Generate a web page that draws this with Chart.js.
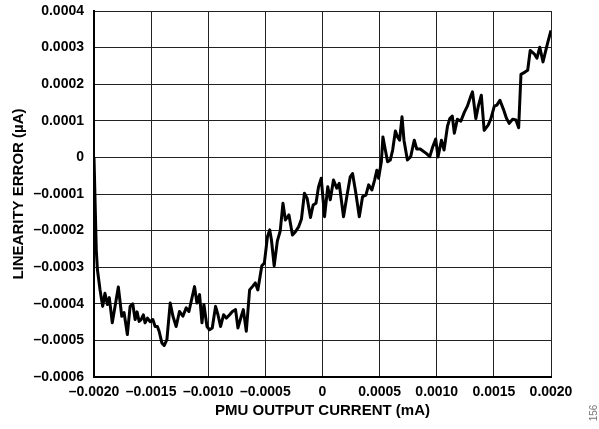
<!DOCTYPE html>
<html>
<head>
<meta charset="utf-8">
<script src="https://cdn.jsdelivr.net/npm/chart.js@4.4.1/dist/chart.umd.min.js"></script>
<style>
    html, body { margin: 0; padding: 0; background: #ffffff; }
    #wrap { width: 599px; height: 429px; }
</style>
</head>
<body>
<div id="wrap"><canvas id="chart" width="599" height="429"></canvas></div>
<script>
// PMU output current (mA)
const currentMa = [
    -0.002000, -0.001980, -0.001970, -0.001947, -0.001924, -0.001904, -0.001883, -0.001866,
    -0.001840, -0.001787, -0.001757, -0.001737, -0.001708, -0.001684, -0.001661, -0.001640,
    -0.001623, -0.001605, -0.001588, -0.001568, -0.001553, -0.001532, -0.001509, -0.001485,
    -0.001465, -0.001445, -0.001430, -0.001406, -0.001386, -0.001362, -0.001333, -0.001309,
    -0.001281, -0.001252, -0.001222, -0.001193, -0.001169, -0.001149, -0.001120, -0.001099,
    -0.001076, -0.001055, -0.001038, -0.001011, -0.000989, -0.000965, -0.000936, -0.000915,
    -0.000892, -0.000866, -0.000842, -0.000813, -0.000789, -0.000761, -0.000740, -0.000711,
    -0.000693, -0.000667, -0.000638, -0.000608, -0.000588, -0.000566, -0.000531, -0.000509,
    -0.000482, -0.000462, -0.000447, -0.000423, -0.000395, -0.000370, -0.000346, -0.000325,
    -0.000294, -0.000263, -0.000237, -0.000208, -0.000184, -0.000158, -0.000134, -0.000105,
    -0.000082, -0.000057, -0.000035, -0.000011, 0.000018, 0.000046, 0.000068, 0.000096,
    0.000125, 0.000146, 0.000184, 0.000213, 0.000243, 0.000263, 0.000292, 0.000322,
    0.000351, 0.000380, 0.000404, 0.000432, 0.000456, 0.000476, 0.000491, 0.000515,
    0.000529, 0.000550, 0.000570, 0.000594, 0.000614, 0.000638, 0.000658, 0.000675,
    0.000696, 0.000713, 0.000743, 0.000772, 0.000803, 0.000825, 0.000855, 0.000882,
    0.000908, 0.000939, 0.000965, 0.000991, 0.001011, 0.001041, 0.001064, 0.001094,
    0.001114, 0.001136, 0.001154, 0.001180, 0.001211, 0.001241, 0.001268, 0.001294,
    0.001313, 0.001342, 0.001364, 0.001390, 0.001415, 0.001450, 0.001474, 0.001504,
    0.001526, 0.001553, 0.001583, 0.001610, 0.001634, 0.001664, 0.001693, 0.001717,
    0.001737, 0.001772, 0.001796, 0.001818, 0.001853, 0.001877, 0.001902, 0.001930,
    0.001969, 0.002000
];

// Linearity error (µA) at each current point
const linearityErrorUa = [
    0.000000, -0.000253, -0.000307, -0.000362, -0.000407, -0.000371, -0.000402, -0.000383,
    -0.000452, -0.000354, -0.000434, -0.000424, -0.000484, -0.000407, -0.000400, -0.000443,
    -0.000422, -0.000448, -0.000443, -0.000430, -0.000452, -0.000439, -0.000449, -0.000443,
    -0.000462, -0.000462, -0.000475, -0.000507, -0.000514, -0.000498, -0.000398, -0.000434,
    -0.000462, -0.000421, -0.000434, -0.000411, -0.000421, -0.000393, -0.000353, -0.000398,
    -0.000375, -0.000452, -0.000402, -0.000462, -0.000471, -0.000466, -0.000407, -0.000430,
    -0.000462, -0.000430, -0.000439, -0.000430, -0.000421, -0.000416, -0.000466, -0.000434,
    -0.000416, -0.000475, -0.000362, -0.000351, -0.000343, -0.000362, -0.000296, -0.000289,
    -0.000217, -0.000198, -0.000225, -0.000296, -0.000228, -0.000201, -0.000125, -0.000171,
    -0.000157, -0.000212, -0.000203, -0.000189, -0.000168, -0.000098, -0.000112, -0.000164,
    -0.000130, -0.000125, -0.000081, -0.000057, -0.000162, -0.000080, -0.000116, -0.000062,
    -0.000084, -0.000071, -0.000162, -0.000107, -0.000053, -0.000044, -0.000098, -0.000162,
    -0.000107, -0.000103, -0.000075, -0.000089, -0.000062, -0.000035, -0.000057, -0.000012,
    0.000056, 0.000020, -0.000012, -0.000007, 0.000020, 0.000072, 0.000055, 0.000047,
    0.000111, 0.000047, -0.000007, 0.000002, 0.000047, 0.000023, 0.000023, 0.000017,
    0.000011, 0.000002, 0.000029, 0.000050, 0.000001, 0.000047, 0.000020, 0.000085,
    0.000106, 0.000113, 0.000066, 0.000104, 0.000099, 0.000123, 0.000140, 0.000164,
    0.000179, 0.000106, 0.000140, 0.000170, 0.000074, 0.000088, 0.000106, 0.000140,
    0.000143, 0.000156, 0.000132, 0.000107, 0.000093, 0.000104, 0.000102, 0.000081,
    0.000227, 0.000233, 0.000238, 0.000292, 0.000283, 0.000271, 0.000301, 0.000261,
    0.000311, 0.000347
];

const xTickValues = [-0.002, -0.0015, -0.001, -0.0005, 0, 0.0005, 0.001, 0.0015, 0.002];
const yTickValues = [0.0004, 0.0003, 0.0002, 0.0001, 0, -0.0001, -0.0002, -0.0003, -0.0004, -0.0005, -0.0006];

const xTitle = "PMU OUTPUT CURRENT (mA)";
const yTitle = "LINEARITY ERROR (µA)";
const figureNumber = "156";

const FONT = "'Liberation Sans', Arial, sans-serif";

// Format like the datasheet: en dash for minus, plain "0" at zero
function fmtTick(value) {
    if (Math.abs(value) < 1e-10) {
        return "0";
    }
    const s = Math.abs(value).toFixed(4);
    return value < 0 ? "\u2013" + s : s;
}

const points = currentMa.map((x, i) => ({ x: x, y: linearityErrorUa[i] }));

// small rotated figure number at the bottom right corner
const figureLabel = {
    id: "figureLabel",
    afterDraw(chart) {
        const ctx = chart.ctx;
        ctx.save();
        ctx.translate(594, 413);
        ctx.rotate(-Math.PI / 2);
        ctx.font = "10px " + FONT;
        ctx.fillStyle = "#777777";
        ctx.textAlign = "center";
        ctx.textBaseline = "middle";
        ctx.fillText(figureNumber, 0, 0);
        ctx.restore();
    },
};

const config = {
    type: "line",
    data: {
        datasets: [{
            data: points,
            borderColor: "#000000",
            borderWidth: 3,
            pointRadius: 0,
            tension: 0,
            fill: false,
            borderJoinStyle: "round",
        }],
    },
    options: {
        responsive: false,
        animation: false,
        events: [],
        layout: {
            padding: { left: 0, top: 11, right: 48, bottom: 0 },
        },
        plugins: {
            legend: { display: false },
            tooltip: { enabled: false },
        },
        scales: {
            x: {
                type: "linear",
                min: -0.002,
                max: 0.002,
                afterBuildTicks: (scale) => {
                    scale.ticks = xTickValues.map((v) => ({ value: v }));
                },
                afterFit: (scale) => {
                    scale.height = 52;
                    scale.paddingLeft = 0;
                    scale.paddingRight = 0;
                },
                grid: {
                    color: "#222222",
                    lineWidth: 1,
                    drawTicks: false,
                },
                border: { color: "#000000", width: 2 },
                ticks: {
                    padding: 7,
                    color: "#000000",
                    maxRotation: 0,
                    autoSkip: false,
                    font: { family: FONT, size: 14, weight: "bold" },
                    callback: (value) => fmtTick(value),
                },
                title: {
                    display: true,
                    text: xTitle,
                    color: "#000000",
                    padding: { top: 0, bottom: 9 },
                    font: { family: FONT, size: 15, weight: "bold" },
                },
            },
            y: {
                type: "linear",
                min: -0.0006,
                max: 0.0004,
                afterBuildTicks: (scale) => {
                    scale.ticks = yTickValues.map((v) => ({ value: v }));
                },
                afterFit: (scale) => {
                    scale.width = 94;
                    scale.paddingTop = 0;
                    scale.paddingBottom = 0;
                },
                grid: {
                    color: "#222222",
                    lineWidth: 1,
                    drawTicks: false,
                },
                border: { color: "#000000", width: 2 },
                ticks: {
                    padding: 10,
                    color: "#000000",
                    autoSkip: false,
                    font: { family: FONT, size: 14, weight: "bold" },
                    callback: (value) => fmtTick(value),
                },
                title: {
                    display: true,
                    text: yTitle,
                    color: "#000000",
                    padding: { top: 10, bottom: 0 },
                    font: { family: FONT, size: 15, weight: "bold" },
                },
            },
        },
    },
    plugins: [figureLabel],
};

new Chart(document.getElementById("chart").getContext("2d"), config);
</script>
</body>
</html>
